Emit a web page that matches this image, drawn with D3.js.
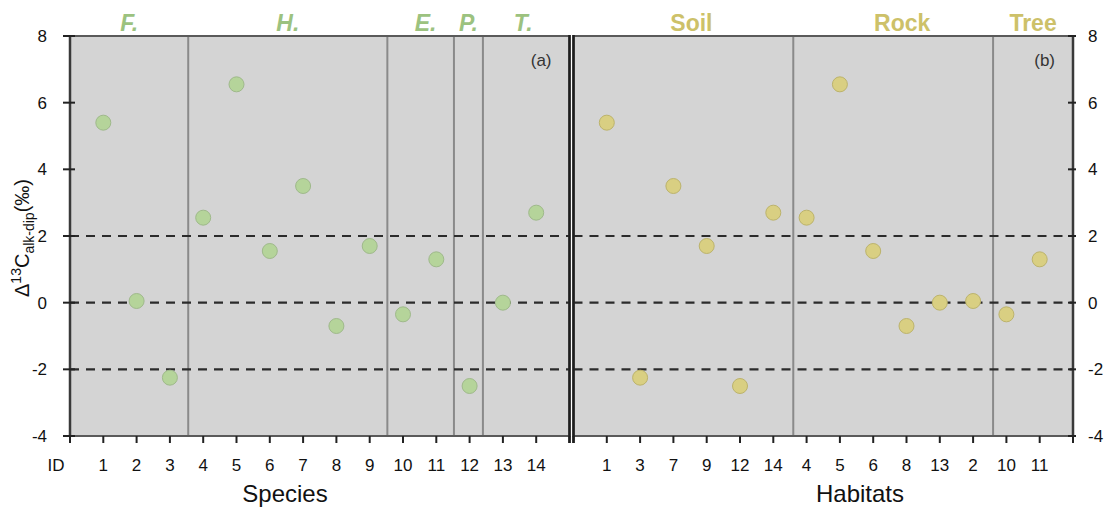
<!DOCTYPE html>
<html><head><meta charset="utf-8">
<script src="https://cdn.jsdelivr.net/npm/d3@7/dist/d3.min.js"></script>
<style>
body{margin:0;background:#fff;}
svg{display:block;font-family:"Liberation Sans",Arial,sans-serif;}
</style></head>
<body><svg id="c" width="1116" height="509"></svg>
<script>
// ---- data ----
const speciesIds = [1,2,3,4,5,6,7,8,9,10,11,12,13,14];
const values     = [5.4,0.05,-2.25,2.55,6.55,1.55,3.5,-0.7,1.7,-0.35,1.3,-2.5,0.0,2.7];
const habitatOrder = [1,3,7,9,12,14,4,5,6,8,13,2,10,11];
const speciesGroups = ["F.","H.","E.","P.","T."];
const speciesBounds = [0,3.55,9.53,11.53,12.4,15];
const habitatGroups = ["Soil","Rock","Tree"];
const habitatBounds = [0,6.6,12.6,15];
const yTicks = [-4,-2,0,2,4,6,8];
const refLines = [-2,0,2];

const svg = d3.select("#c");
const y = d3.scaleLinear().domain([-4,8]).range([436,36]);
const xL = d3.scaleLinear().domain([0,15]).range([70,569.5]);
const xR = d3.scaleLinear().domain([0,15]).range([573.5,1073]);

const valueOf = id => values[speciesIds.indexOf(id)];

function panel(x, ids, bounds, groups, fill, stroke, labelColor, italic, tag, labelOffsets){
  const [x0,x1] = x.range();
  svg.append("rect").attr("x",x0).attr("y",y(8)).attr("width",x1-x0).attr("height",y(-4)-y(8)).attr("fill","#d4d4d4");
  // separators
  svg.selectAll(null).data(bounds.slice(1,-1)).join("line")
    .attr("x1",d=>x(d)).attr("x2",d=>x(d)).attr("y1",y(8)).attr("y2",y(-4))
    .attr("stroke","#8a8a8a").attr("stroke-width",2);
  // dashed reference lines
  svg.selectAll(null).data(refLines).join("line")
    .attr("x1",x0).attr("x2",x1).attr("y1",d=>y(d)).attr("y2",d=>y(d))
    .attr("stroke","#2b2b2b").attr("stroke-width",2.2).attr("stroke-dasharray","9,7");
  // points
  svg.selectAll(null).data(ids).join("circle")
    .attr("cx",(d,i)=>x(i+1)).attr("cy",d=>y(valueOf(d))).attr("r",7.5)
    .attr("fill",fill).attr("stroke",stroke).attr("stroke-width",1);
  // border
  svg.append("rect").attr("x",x0).attr("y",y(8)).attr("width",x1-x0).attr("height",y(-4)-y(8))
    .attr("fill","none").attr("stroke","#5a5a5a").attr("stroke-width",2);
  // group labels
  svg.selectAll(null).data(groups).join("text")
    .attr("x",(d,i)=>(x(bounds[i])+x(bounds[i+1]))/2 + labelOffsets[i]).attr("y",31)
    .attr("text-anchor","middle").attr("font-size",23).attr("font-weight","bold")
    .attr("font-style",italic?"italic":"normal").attr("fill",labelColor).text(d=>d);
  // bottom ticks
  const tks = d3.range(0,16);
  svg.selectAll(null).data(tks).join("line")
    .attr("x1",d=>x(d)).attr("x2",d=>x(d)).attr("y1",y(-4)).attr("y2",y(-4)+7)
    .attr("stroke","#222").attr("stroke-width",2);
  svg.selectAll(null).data(ids).join("text")
    .attr("x",(d,i)=>x(i+1)).attr("y",471).attr("text-anchor","middle")
    .attr("font-size",17).attr("fill","#111").text(d=>d);
  svg.append("text").attr("x",x1-18).attr("y",66).attr("text-anchor","end")
    .attr("font-size",17).attr("fill","#333").text(tag);
}

panel(xL, speciesIds, speciesBounds, speciesGroups, "#b5d49a", "#9fb98b", "#9cc27f", true, "(a)", [0,0,5,0,-3]);
panel(xR, habitatOrder, habitatBounds, habitatGroups, "#d9cf82", "#bcb36c", "#cdc169", false, "(b)", [8,9,0]);

// double divider between the panels
svg.selectAll(null).data([xL.range()[1], xR.range()[0]]).join("line")
  .attr("x1",d=>d).attr("x2",d=>d).attr("y1",y(8)-1).attr("y2",y(-4)+7)
  .attr("stroke","#1e1e1e").attr("stroke-width",2.6);

// left y axis
svg.append("line").attr("x1",70).attr("x2",70).attr("y1",y(8)).attr("y2",y(-4)).attr("stroke","#3a3a3a").attr("stroke-width",2.5);
svg.selectAll(null).data(yTicks).join("line")
  .attr("x1",63).attr("x2",75).attr("y1",d=>y(d)).attr("y2",d=>y(d)).attr("stroke","#222").attr("stroke-width",2);
svg.selectAll(null).data(yTicks).join("text")
  .attr("x",47).attr("y",d=>y(d)+6).attr("text-anchor","end").attr("font-size",17).attr("fill","#111").text(d=>d);
// right y axis
svg.append("line").attr("x1",1073).attr("x2",1073).attr("y1",y(8)).attr("y2",y(-4)).attr("stroke","#3a3a3a").attr("stroke-width",2.5);
svg.selectAll(null).data(yTicks).join("line")
  .attr("x1",1068).attr("x2",1076).attr("y1",d=>y(d)).attr("y2",d=>y(d)).attr("stroke","#222").attr("stroke-width",2);
svg.selectAll(null).data(yTicks).join("text")
  .attr("x",1088).attr("y",d=>y(d)+6).attr("text-anchor","start").attr("font-size",17).attr("fill","#111").text(d=>d);

// axis titles
svg.append("text").attr("x",56).attr("y",471).attr("text-anchor","middle").attr("font-size",17).attr("fill","#111").text("ID");
svg.append("text").attr("x",285).attr("y",502).attr("text-anchor","middle").attr("font-size",24).attr("fill","#111").text("Species");
svg.append("text").attr("x",860).attr("y",502).attr("text-anchor","middle").attr("font-size",24).attr("fill","#111").text("Habitats");

const yt = svg.append("text").attr("transform","translate(29,238) rotate(-90)")
  .attr("text-anchor","middle").attr("font-size",20).attr("fill","#111");
yt.append("tspan").text("Δ");
yt.append("tspan").attr("font-size",14).attr("dy",-8).text("13");
yt.append("tspan").attr("dy",8).text("C");
yt.append("tspan").attr("font-size",14).attr("dy",5).text("alk-dip");
yt.append("tspan").attr("dy",-5).text("(‰)");
</script>
</body></html>
